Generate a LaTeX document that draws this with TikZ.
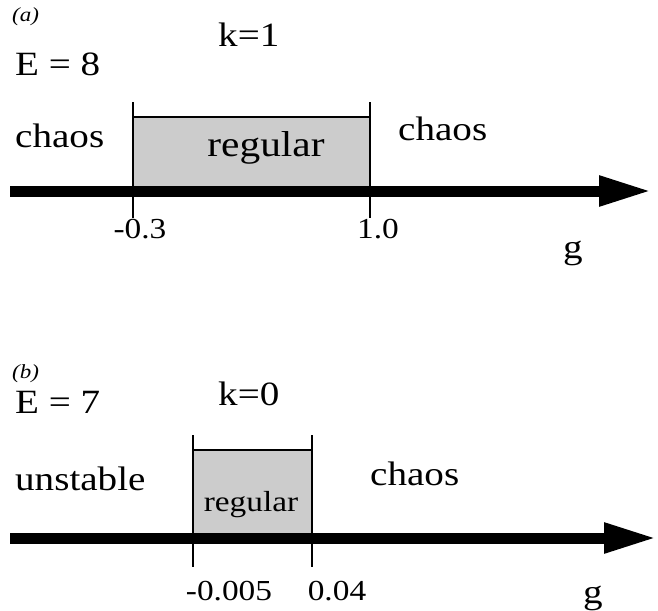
\documentclass[tikz,border=0pt]{standalone}
\usepackage{fontspec}
\setmainfont{Liberation Serif}[FakeStretch=1.15]
\usetikzlibrary{arrows.meta}

\begin{document}
\begin{tikzpicture}[
  x=1pt, y=-1pt,
  lbl/.style={inner sep=0pt, anchor=base west, font=\fontsize{34}{40}\selectfont},
  num/.style={inner sep=0pt, anchor=base, font=\fontsize{29}{34}\selectfont},
  tag/.style={inner sep=0pt, anchor=base west, font=\fontsize{20}{24}\selectfont\itshape},
  band/.style={draw, line width=2.5pt, fill=gray!40},
  bound/.style={line width=1.8pt},
  axis/.style={line width=11pt, -{Triangle[length=53pt,width=28pt]}},
]
\useasboundingbox (0,0) rectangle (658,610);

% (a)  E = 8, k = 1
\coordinate (a0) at (10,191);
\coordinate (a1) at (652,191);
\coordinate (alo) at (133,117);
\coordinate (ahi) at (370,191);
\draw[band] (alo) rectangle (ahi);
\draw[axis] (a0) -- (a1);
\draw[bound] (133,102) -- (133,218);
\draw[bound] (370,102) -- (370,218);
\node[tag] (pa) at (12,22) {(a)};
\node[lbl] (ea) at (15,75) {E = 8};
\node[lbl] (ka) at (218,47) {k=1};
\node[lbl] (ca) at (15,147) {chaos};
\node[num, font=\fontsize{36}{40}\selectfont] (ra) at (266,156) {regular};
\node[lbl] (cb) at (398,140) {chaos};
\node[num] (ta) at (140,238) {-0.3};
\node[num] (tb) at (378,238) {1.0};
\node[num, font=\fontsize{34}{40}\selectfont] (ga) at (573,258) {g};

% (b)  E = 7, k = 0
\coordinate (b0) at (10,538);
\coordinate (b1) at (657,538);
\coordinate (blo) at (193,450);
\coordinate (bhi) at (312,538);
\draw[band] (blo) rectangle (bhi);
\draw[axis] (b0) -- (b1);
\draw[bound] (193,435) -- (193,567);
\draw[bound] (312,435) -- (312,567);
\node[tag] (pb) at (12,378) {(b)};
\node[lbl] (eb) at (15,413) {E = 7};
\node[lbl] (kb) at (218,405) {k=0};
\node[lbl] (ua) at (15,490) {unstable};
\node[num] (rb) at (251,511) {regular};
\node[lbl] (cc) at (370,485) {chaos};
\node[num] (tc) at (229,600) {-0.005};
\node[num] (td) at (337,600) {0.04};
\node[num, font=\fontsize{34}{40}\selectfont] (gb) at (593,603) {g};
\end{tikzpicture}
\end{document}
